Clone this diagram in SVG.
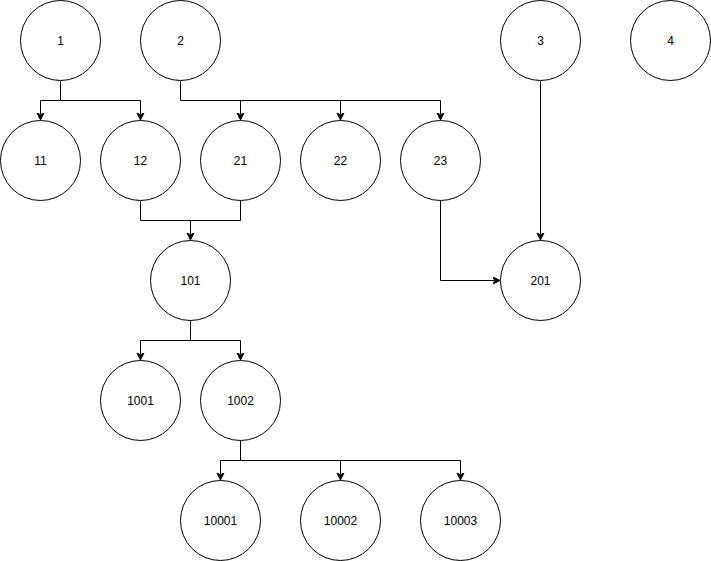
<svg xmlns="http://www.w3.org/2000/svg" width="711" height="561" viewBox="0 0 711 561">
<style>
.n circle{fill:#fff;stroke:#000;stroke-width:1}
.n text{font-family:"Liberation Sans",Arial,Helvetica,sans-serif;font-size:12px;fill:#000;text-anchor:middle}
.c path{fill:none;stroke:#000;stroke-width:1;marker-end:url(#arr)}
.c path.nm{marker-end:none}
</style>
<defs>
<marker id="arr" markerUnits="userSpaceOnUse" markerWidth="10" markerHeight="10" viewBox="0 0 10 10" refX="1" refY="4" orient="auto">
<path d="M0,0.5 L7,4 L0,7.5 L1.75,4 z" fill="#000" stroke="#000" stroke-width="1"/>
</marker>
</defs>
<rect width="711" height="561" fill="#fff"/>
<g id="connectors" class="c">
<path d="M60.5,80.5 V100.5 H40.5 V114"/>
<path d="M60.5,100.5 H140.5 V114"/>
<path d="M180.5,80.5 V100.5 H240.5 V114"/>
<path d="M240.5,100.5 H340.5 V114"/>
<path d="M340.5,100.5 H440.5 V114"/>
<path d="M140.5,200.5 V220.5 H190.5 V234"/>
<path class="nm" d="M240.5,200.5 V220.5 H190.5"/>
<path d="M440.5,200.5 V280.5 H494"/>
<path d="M540.5,80.5 V234"/>
<path d="M190.5,320.5 V340.5 H140.5 V354"/>
<path d="M190.5,340.5 H240.5 V354"/>
<path d="M240.5,440.5 V460.5 H220.5 V474"/>
<path d="M240.5,460.5 H340.5 V474"/>
<path d="M340.5,460.5 H460.5 V474"/>
</g>
<g id="n1" class="n"><circle cx="60.5" cy="40.5" r="40"/><text x="60.5" y="44.5">1</text></g>
<g id="n2" class="n"><circle cx="180.5" cy="40.5" r="40"/><text x="180.5" y="44.5">2</text></g>
<g id="n3" class="n"><circle cx="540.5" cy="40.5" r="40"/><text x="540.5" y="44.5">3</text></g>
<g id="n4" class="n"><circle cx="670.5" cy="40.5" r="40"/><text x="670.5" y="44.5">4</text></g>
<g id="n11" class="n"><circle cx="40.5" cy="160.5" r="40"/><text x="40.5" y="164.5">11</text></g>
<g id="n12" class="n"><circle cx="140.5" cy="160.5" r="40"/><text x="140.5" y="164.5">12</text></g>
<g id="n21" class="n"><circle cx="240.5" cy="160.5" r="40"/><text x="240.5" y="164.5">21</text></g>
<g id="n22" class="n"><circle cx="340.5" cy="160.5" r="40"/><text x="340.5" y="164.5">22</text></g>
<g id="n23" class="n"><circle cx="440.5" cy="160.5" r="40"/><text x="440.5" y="164.5">23</text></g>
<g id="n101" class="n"><circle cx="190.5" cy="280.5" r="40"/><text x="190.5" y="284.5">101</text></g>
<g id="n201" class="n"><circle cx="540.5" cy="280.5" r="40"/><text x="540.5" y="284.5">201</text></g>
<g id="n1001" class="n"><circle cx="140.5" cy="400.5" r="40"/><text x="140.5" y="404.5">1001</text></g>
<g id="n1002" class="n"><circle cx="240.5" cy="400.5" r="40"/><text x="240.5" y="404.5">1002</text></g>
<g id="n10001" class="n"><circle cx="220.5" cy="520.5" r="40"/><text x="220.5" y="524.5">10001</text></g>
<g id="n10002" class="n"><circle cx="340.5" cy="520.5" r="40"/><text x="340.5" y="524.5">10002</text></g>
<g id="n10003" class="n"><circle cx="460.5" cy="520.5" r="40"/><text x="460.5" y="524.5">10003</text></g>
</svg>
